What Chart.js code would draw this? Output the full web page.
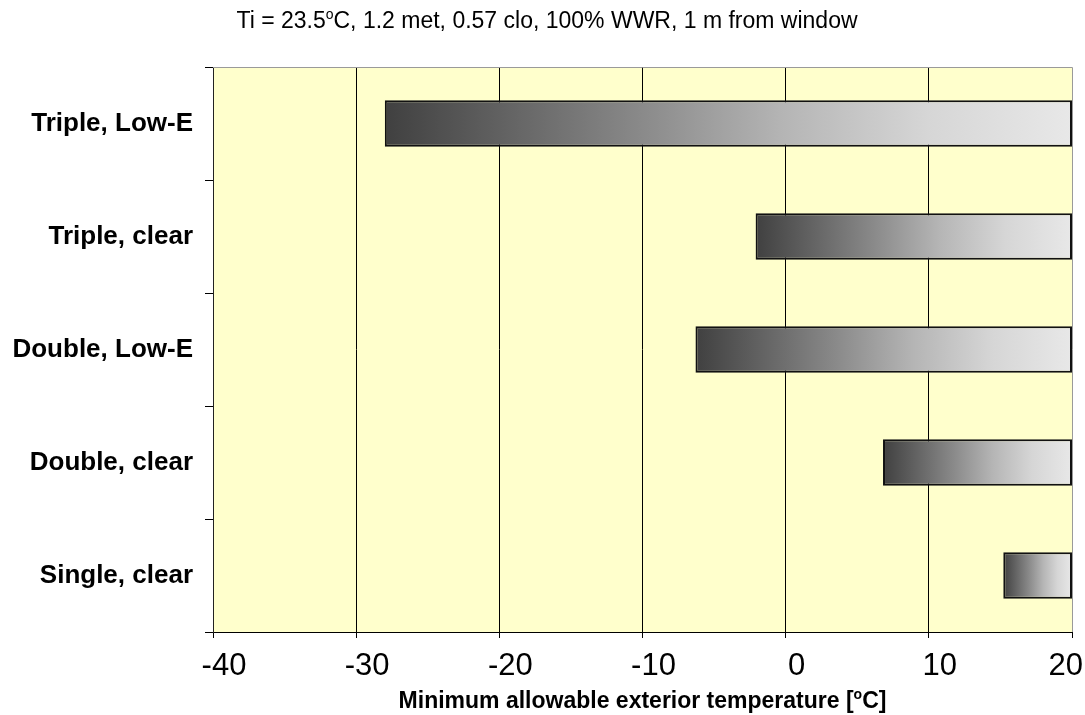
<!DOCTYPE html>
<html>
<head>
<meta charset="utf-8">
<script src="https://cdn.jsdelivr.net/npm/chart.js@4.4.1/dist/chart.umd.min.js"></script>
<style>
  html, body { margin: 0; padding: 0; background: #fff; }
  #wrap { width: 1085px; height: 715px; position: relative; }
</style>
</head>
<body>
<div id="wrap"><canvas id="c"></canvas></div>
<script>
// Glazing types, top to bottom
const glazings = ['Triple, Low-E', 'Triple, clear', 'Double, Low-E', 'Double, clear', 'Single, clear'];
// Minimum allowable exterior temperature for each glazing [°C]
const minExteriorTemp = [-28.0, -2.1, -6.3, 6.8, 15.2];
// Upper end of each range bar [°C]
const rangeTop = 20;
// Temperature axis ticks
const xTicks = [-40, -30, -20, -10, 0, 10, 20];

const FONT = '"Liberation Sans", Arial, Helvetica, sans-serif';

// Draws a line of text where parts flagged sup are raised and smaller
function drawRich(ctx, parts, cx, baseline, size, weight) {
  const supSize = Math.round(size * 0.62);
  const widths = parts.map(p => {
    ctx.font = `${weight} ${p.sup ? supSize : size}px ${FONT}`;
    return ctx.measureText(p.t).width;
  });
  const total = widths.reduce((a, b) => a + b, 0);
  let x = cx - total / 2;
  ctx.save();
  ctx.fillStyle = '#000';
  ctx.textBaseline = 'alphabetic';
  ctx.textAlign = 'left';
  parts.forEach((p, i) => {
    ctx.font = `${weight} ${p.sup ? supSize : size}px ${FONT}`;
    ctx.fillText(p.t, x, p.sup ? baseline - size * 0.38 : baseline);
    x += widths[i];
  });
  ctx.restore();
}

const decor = {
  id: 'decor',
  beforeDraw(chart) {
    const { ctx, chartArea: a } = chart;
    ctx.save();
    ctx.fillStyle = '#FFFFCC';
    ctx.fillRect(a.left, a.top, a.right - a.left, a.bottom - a.top);
    ctx.restore();
  },
  afterDraw(chart) {
    const { ctx, chartArea: a } = chart;
    const xs = chart.scales.x;

    // light frame on the top and right of the plot area
    ctx.save();
    ctx.strokeStyle = '#9a9a9a';
    ctx.lineWidth = 1;
    ctx.beginPath();
    ctx.moveTo(a.left, a.top + 0.5);
    ctx.lineTo(a.right + 0.5, a.top + 0.5);
    ctx.lineTo(a.right + 0.5, a.bottom);
    ctx.stroke();
    ctx.restore();

    // temperature tick labels, kept inside the canvas at the right end
    ctx.save();
    ctx.font = `31px ${FONT}`;
    ctx.fillStyle = '#000';
    ctx.textBaseline = 'alphabetic';
    ctx.textAlign = 'left';
    xTicks.forEach(v => {
      const txt = String(v);
      const w = ctx.measureText(txt).width;
      let left = xs.getPixelForValue(v) + 11 - w / 2;
      left = Math.min(left, chart.width - 2 - w);
      ctx.fillText(txt, left, 675);
    });
    ctx.restore();

    drawRich(ctx, [
      { t: 'Ti = 23.5' }, { t: 'o', sup: true },
      { t: 'C, 1.2 met, 0.57 clo, 100% WWR, 1 m from window' }
    ], 547, 28, 23, 'normal');

    drawRich(ctx, [
      { t: 'Minimum allowable exterior temperature [' }, { t: 'o', sup: true }, { t: 'C]' }
    ], (a.left + a.right) / 2, 708, 23, 'bold');
  }
};

function barGradient(context) {
  const chart = context.chart;
  if (!chart.chartArea || context.type !== 'data') return '#888';
  const xs = chart.scales.x;
  const raw = context.raw;
  const x0 = xs.getPixelForValue(raw[0]);
  const x1 = xs.getPixelForValue(raw[1]);
  const g = chart.ctx.createLinearGradient(x0, 0, x1, 0);
  g.addColorStop(0, '#404040');
  g.addColorStop(0.375, '#8a8a8a');
  g.addColorStop(0.58, '#b5b5b5');
  g.addColorStop(0.79, '#d6d6d6');
  g.addColorStop(1, '#e8e8e8');
  return g;
}

new Chart(document.getElementById('c'), {
  type: 'bar',
  data: {
    labels: glazings,
    datasets: [{
      data: minExteriorTemp.map(v => [v, rangeTop]),
      backgroundColor: barGradient,
      borderColor: '#111',
      borderWidth: 2,
      borderSkipped: false,
      categoryPercentage: 1,
      barPercentage: 0.41
    }]
  },
  plugins: [decor],
  options: {
    indexAxis: 'y',
    responsive: true,
    maintainAspectRatio: false,
    animation: false,
    layout: { padding: { left: 0, top: 67, right: 13, bottom: 0 } },
    plugins: {
      legend: { display: false },
      tooltip: { enabled: false },
      title: { display: false }
    },
    scales: {
      x: {
        type: 'linear',
        min: xTicks[0],
        max: xTicks[xTicks.length - 1],
        afterBuildTicks: s => { s.ticks = xTicks.map(v => ({ value: v })); },
        afterFit: s => { s.height = 83; s.paddingLeft = 0; s.paddingRight = 0; },
        grid: {
          color: c => (c.tick && c.tick.value === rangeTop) ? 'rgba(0,0,0,0)' : '#000',
          lineWidth: 1,
          tickColor: '#000',
          tickLength: 6
        },
        border: { display: true, color: '#000', width: 1 },
        ticks: { display: false }
      },
      y: {
        type: 'category',
        offset: true,
        afterFit: s => { s.width = 213; },
        grid: {
          drawOnChartArea: false,
          tickColor: '#000',
          tickLength: 8,
          offset: true
        },
        border: { display: true, color: '#222', width: 1 },
        ticks: {
          color: '#000',
          padding: 12,
          font: { family: FONT, size: 26, weight: 'bold' }
        }
      }
    }
  }
});
</script>
</body>
</html>
